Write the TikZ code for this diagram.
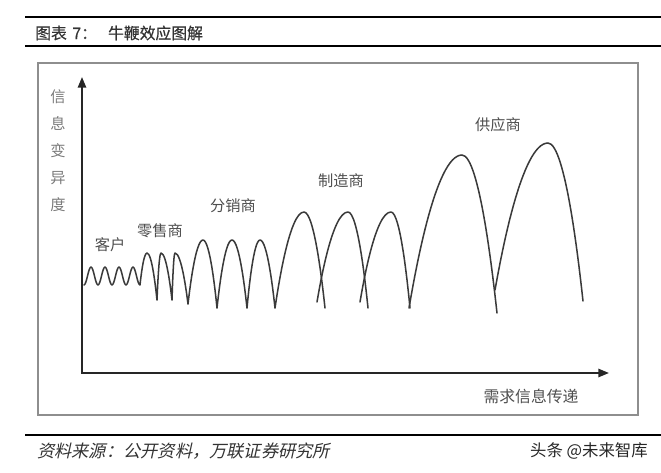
\documentclass[tikz,border=0pt]{standalone}
\usepackage{fontspec}
\newfontfamily\cjk{Noto Sans CJK SC}
\newfontfamily\cjkcap[FakeBold=0.6]{Noto Sans CJK SC}
\newfontfamily\cjkit[FakeSlant=0.22]{Noto Sans CJK SC}
\usetikzlibrary{arrows.meta}
\definecolor{BWLine}  {HTML}{3A3A3A}
\definecolor{BWText}  {HTML}{4E4E4E}
\definecolor{BWGray}  {HTML}{7A7A7A}
\definecolor{BWFrame} {HTML}{8E8E8E}
\tikzset{
  stagelabel/.style={font=\cjk\fontsize{13}{15}\selectfont,text=BWText,inner sep=0pt},
  wave/.style={draw=BWLine,line width=1.3pt,line join=round,line cap=round},
  axisline/.style={draw=black!85,line width=1.6pt,line join=miter,
    {Triangle[length=9pt,width=7pt]}-{Triangle[length=9pt,width=7pt]}},
  hrule/.style={draw=black,line width=2pt},
}
\begin{document}
\begin{tikzpicture}[x=0.03cm,y=-0.03cm]
  \useasboundingbox (0,0) rectangle (661,473);
  % Header
  \draw[hrule] (25,17) -- (661,17);
  \node[font=\cjkcap\fontsize{13.5}{15}\selectfont,text=black!80,anchor=west,inner sep=0pt] (capt) at (35,33)
    {图表\hspace{0.35em}7：\hspace{0.7em}牛鞭效应图解};
  \draw[hrule] (25,46) -- (661,46);
  % Frame
  \draw[BWFrame,line width=0.9pt] (38,63) rectangle (638,415);
  % Axes
  \coordinate (O) at (82,373);
  \coordinate (ytip) at (82,77);
  \coordinate (xtip) at (609,373);
  \draw[axisline] (ytip) -- (O) -- (xtip);
  \node[font=\cjk\fontsize{13}{23}\selectfont,text=BWGray,align=center,inner sep=0pt] (ylab) at (58,151)
    {信\\息\\变\\异\\度};
  \node[stagelabel,font=\cjk\fontsize{13.5}{15}\selectfont] (xlab) at (531,396) {需求信息传递};
  % Stage labels
  \node[stagelabel] (lbCust)   at (110,245) {客户};
  \node[stagelabel] (lbRetail) at (160,231) {零售商};
  \node[stagelabel] (lbDist)   at (233,206) {分销商};
  \node[stagelabel] (lbMfr)    at (341,181) {制造商};
  \node[stagelabel] (lbSupp)   at (498,125) {供应商};
  % Customer, retailer, distributor
  \draw[wave] (84,285)
    \foreach \i in {0,...,3}{ cos ++(3.5,-9) sin ++(3.5,-9) cos ++(3.5,9) sin ++(3.5,9) }
    parabola bend (147,253) (157,300)
    parabola bend (161,253) (172,300)
    parabola bend (175,253) (188,304)
    parabola bend (203,240) (217,308)
    parabola bend (232,240) (247,308)
    parabola bend (260,240) (275,308)
    parabola bend (304,212) (325,308);
  % Manufacturer
  \draw[wave] (317,302) parabola bend (348,212) (368,308);
  \draw[wave] (360,302) parabola bend (391,212) (410,308);
  % Supplier
  \draw[wave] (409,308) parabola bend (462,155) (497,313);
  \draw[wave] (495,290) parabola bend (548,143) (583,301);
  % Footer
  \draw[hrule] (25,435) -- (661,435);
  \node[font=\cjkit\fontsize{14.7}{16}\selectfont,text=black!80,anchor=west,inner sep=0pt] (src) at (37,451)
    {资料来源：公开资料，万联证券研究所};
  \node[font=\cjk\fontsize{14}{16}\selectfont,text=black!85,anchor=east,inner sep=0pt] (mark) at (648,451)
    {头条 @未来智库};
\end{tikzpicture}
\end{document}
